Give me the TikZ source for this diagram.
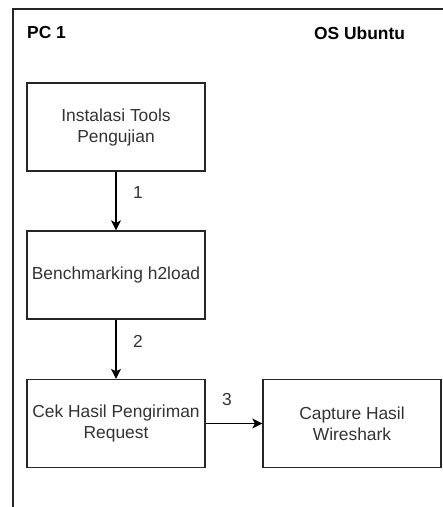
\documentclass[tikz,border=0pt]{standalone}
\usepackage{fontspec}
\setmainfont{Liberation Sans}
\usetikzlibrary{arrows.meta}
\definecolor{ink}{HTML}{333333}
\definecolor{edge}{HTML}{262626}
\tikzset{
  stepbox/.style={draw=edge, line width=1.3pt, fill=white, minimum width=178pt, minimum height=88pt,
    inner sep=0pt, align=center, text=ink, font=\fontsize{17.4pt}{21pt}\selectfont},
  flow/.style={draw=black, line width=1.3pt, -{Stealth[length=10pt,width=10pt,inset=2.5pt]}},
  lbl/.style={text=ink, font=\fontsize{17.4pt}{21pt}\selectfont, inner sep=0pt},
  head/.style={text=black, font=\bfseries\fontsize{17.4pt}{21pt}\selectfont, inner sep=0pt, anchor=west}
}
\begin{document}
\begin{tikzpicture}[x=1pt,y=-1pt]
\useasboundingbox (0,0) rectangle (443,507);
\clip (0,0) rectangle (443,507);
\draw[draw=edge, line width=2.8pt] (13,530) -- (13,9) -- (470,9);
\node[head] (pc) at (27,33) {PC 1};
\node[head] (os) at (314,33) {OS Ubuntu};
\node[stepbox] (a) at (116,127) {Instalasi Tools\\Pengujian};
\node[stepbox] (b) at (116,275) {Benchmarking h2load};
\node[stepbox] (c) at (116,423.5) {Cek Hasil Pengiriman\\Request};
\node[stepbox] (d) at (352,423.5) {Capture Hasil\\Wireshark};
\draw[flow] (a) -- (b);
\draw[flow] (b) -- (c);
\draw[flow] (c) -- (d);
\node[lbl] (l1) at (138,193) {1};
\node[lbl] (l2) at (138,341) {2};
\node[lbl] (l3) at (227,400) {3};
\end{tikzpicture}
\end{document}
